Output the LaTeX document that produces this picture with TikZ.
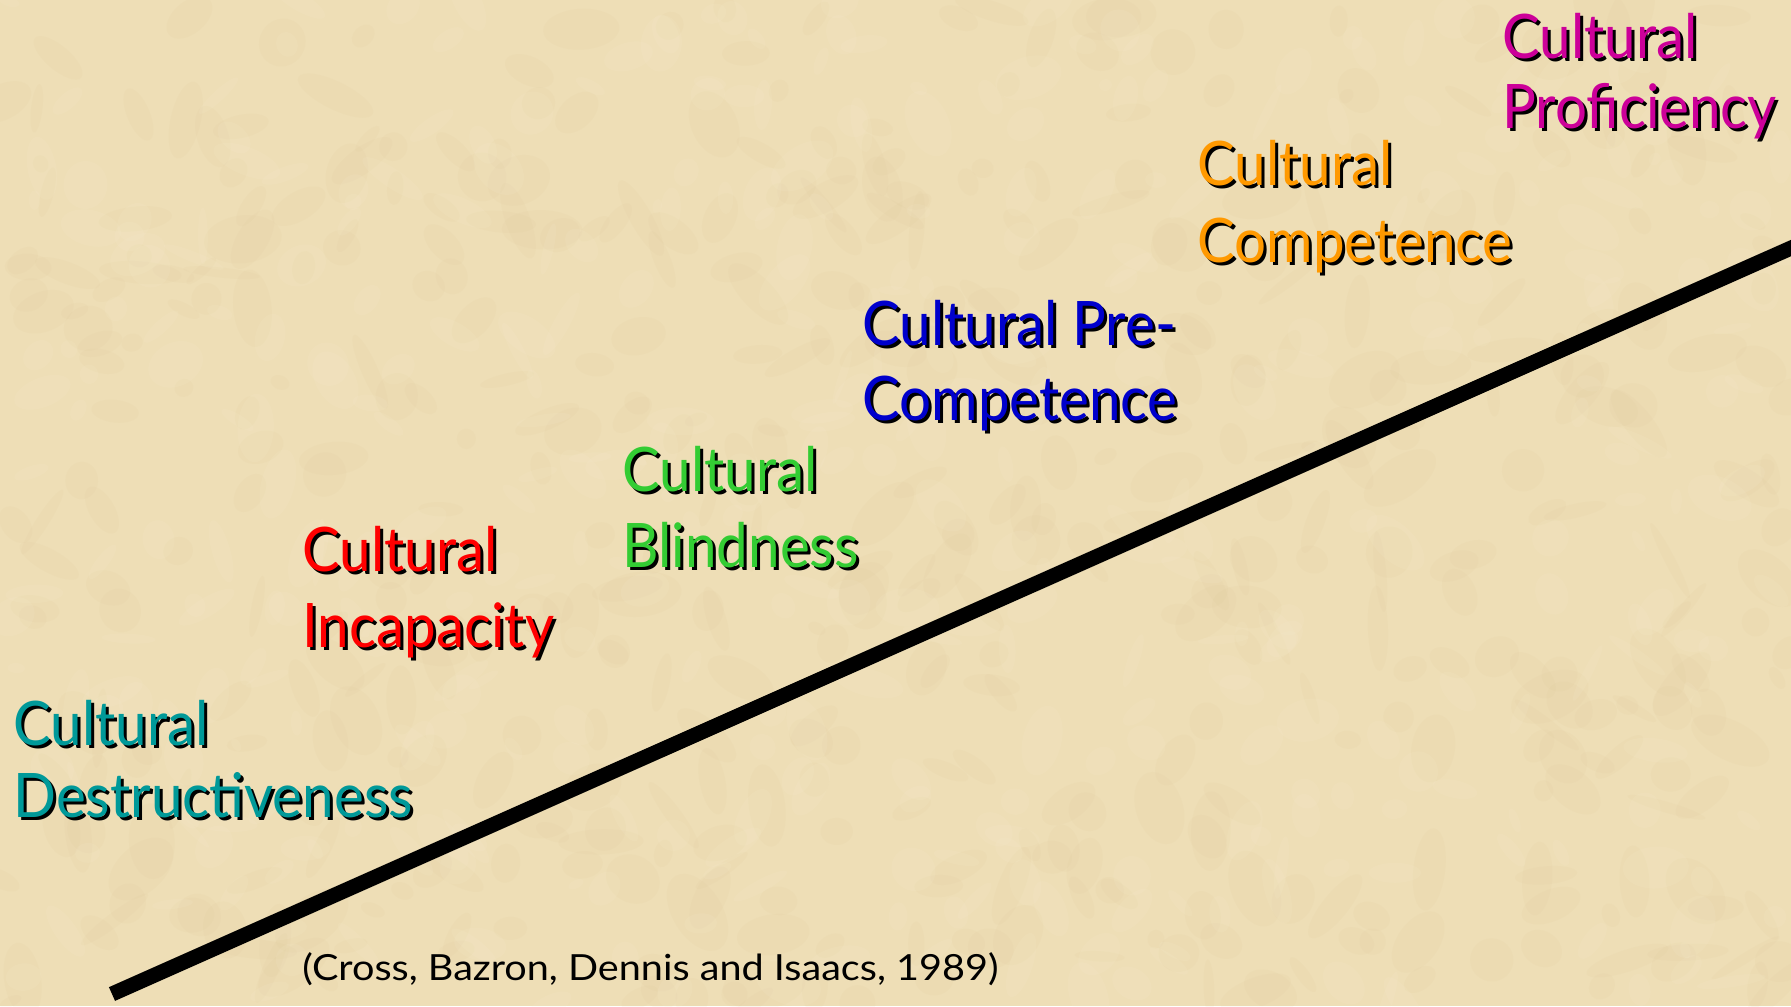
\documentclass[tikz,border=0pt]{standalone}
\usepackage{fontspec}
\setmainfont{Lato}
\newfontfamily\labelfont[FakeStretch=0.92]{Lato}
\newfontfamily\citefont[FakeStretch=1.1]{Lato}
\definecolor{bgcol}{RGB}{238,222,182}
\definecolor{blotdark}{RGB}{214,188,138}
\definecolor{blotlight}{RGB}{248,238,210}
\definecolor{cteal}{RGB}{0,153,153}
\definecolor{cred}{RGB}{255,0,0}
\definecolor{cgreen}{RGB}{51,204,51}
\definecolor{cblue}{RGB}{0,0,204}
\definecolor{corange}{RGB}{255,153,0}
\definecolor{cmagenta}{RGB}{204,0,153}
\newcommand{\shtext}[2]{\makebox[0pt][l]{\kern1.5pt\raisebox{-1.5pt}{\textcolor{black}{#2}}}\textcolor{#1}{#2}}
\tikzset{
  stage/.style={anchor=base west, inner sep=0pt, font=\labelfont\fontsize{30.7}{37}\selectfont},
  citation/.style={anchor=base west, inner sep=0pt, font=\citefont\fontsize{18}{22}\selectfont, text=black},
  scaleline/.style={line width=7.5pt, line cap=butt, black}
}
\begin{document}
\begin{tikzpicture}[x=0.5pt,y=-0.5pt]
\useasboundingbox (0,0) rectangle (1791,1006);
\fill[bgcol] (0,0) rectangle (1791,1006);
\begin{scope}
\clip (0,0) rectangle (1791,1006);
\pgfmathsetseed{11}
\foreach \i in {1,...,500}{
  \pgfmathsetmacro\bx{rnd*1791}
  \pgfmathsetmacro\by{rnd*1006}
  \pgfmathsetmacro\ra{8+rnd*35}
  \pgfmathsetmacro\rb{5+rnd*20}
  \pgfmathsetmacro\rot{rnd*180}
  \fill[blotdark, opacity=0.07, rotate around={\rot:(\bx,\by)}] (\bx,\by) ellipse ({\ra} and {\rb});
}
\foreach \i in {1,...,400}{
  \pgfmathsetmacro\bx{rnd*1791}
  \pgfmathsetmacro\by{rnd*1006}
  \pgfmathsetmacro\ra{6+rnd*30}
  \pgfmathsetmacro\rb{4+rnd*18}
  \pgfmathsetmacro\rot{rnd*180}
  \fill[blotlight, opacity=0.12, rotate around={\rot:(\bx,\by)}] (\bx,\by) ellipse ({\ra} and {\rb});
}
\coordinate (lineStart) at (112,994);
\coordinate (lineEnd) at (1830,230.7);
\draw[scaleline] (lineStart) -- (lineEnd);
\end{scope}

\node[stage] (destA) at (13,745) {\shtext{cteal}{Cultural}};
\node[stage] (destB) at (13,817) {\shtext{cteal}{Destructiveness}};
\node[stage] (incA) at (302,571) {\shtext{cred}{Cultural}};
\node[stage] (incB) at (302,647) {\shtext{cred}{Incapacity}};
\node[stage] (blindA) at (622,491) {\shtext{cgreen}{Cultural}};
\node[stage] (blindB) at (622,567) {\shtext{cgreen}{Blindness}};
\node[stage] (preA) at (862,345) {\shtext{cblue}{Cultural Pre-}};
\node[stage] (preB) at (862,420) {\shtext{cblue}{Competence}};
\node[stage] (compA) at (1197,185) {\shtext{corange}{Cultural}};
\node[stage] (compB) at (1197,262) {\shtext{corange}{Competence}};
\node[stage] (profA) at (1502,59) {\shtext{cmagenta}{Cultural}};
\node[stage] (profB) at (1502,128) {\shtext{cmagenta}{Proficiency}};
\node[citation] (cite) at (302,980) {(Cross, Bazron, Dennis and Isaacs, 1989)};
\end{tikzpicture}
\end{document}
